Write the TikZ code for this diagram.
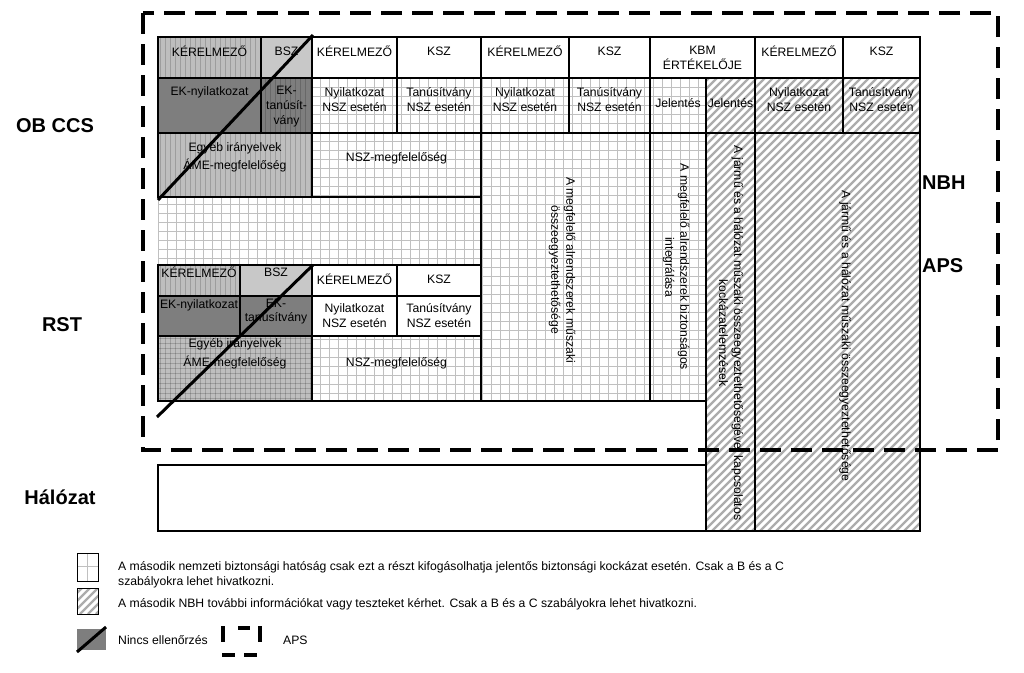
\documentclass[tikz,border=0pt]{standalone}
\usepackage{fontspec}
\setmainfont{Liberation Sans}
\definecolor{lgray}{HTML}{BEBEBE}
\definecolor{bszc}{HTML}{C8C8C8}
\definecolor{dgray}{HTML}{7E7E7E}
\definecolor{gridc}{HTML}{C0C0C0}
\definecolor{hatchc}{HTML}{ACACAC}
\begin{document}
\begin{tikzpicture}[x=1pt,y=-1pt,
  cell/.style={draw=black,line width=1.2pt},
  txt/.style={font=\fontsize{12.2}{15}\selectfont,align=center,inner sep=0pt},
  vtxt/.style={txt,rotate=-90},
  big/.style={font=\fontsize{20}{24}\selectfont\bfseries,inner sep=0pt},
  leg/.style={font=\fontsize{12.2}{15}\selectfont,inner sep=0pt,anchor=west,align=left},
  gridline/.style={draw=gridc,line width=0.8pt},
  hatchline/.style={draw=hatchc,line width=2.2pt},
  vline/.style={draw=black,opacity=0.17,line width=0.7pt},
  diag/.style={draw=black,line width=3pt},
  apsline/.style={draw=black,line width=3.5pt,dash pattern=on 21pt off 10pt}
]
\useasboundingbox (0,0) rectangle (1024,672);
\fill[white] (0,0) rectangle (1024,672);

% gray cells
\fill[lgray] (158,37) rectangle (261,78);
\fill[bszc] (261,37) rectangle (312,78);
\fill[dgray] (158,78) rectangle (312,133);
\fill[lgray] (158,133) rectangle (312,197);
\fill[lgray] (158,265) rectangle (240,296);
\fill[bszc] (240,265) rectangle (312,296);
\fill[dgray] (158,296) rectangle (312,336);
\fill[lgray] (158,336) rectangle (312,401);
\begin{scope}
  \clip (158,37) rectangle (261,78) (261,78) rectangle (312,133) (158,133) rectangle (312,197)
        (158,265) rectangle (240,296) (158,336) rectangle (312,401);
  \foreach \x in {160,165,...,312} \draw[vline] (\x,37) -- (\x,401);
\end{scope}
\begin{scope}
  \clip (158,336) rectangle (312,401);
  \foreach \y in {338,343,...,401} \draw[vline] (158,\y) -- (312,\y);
\end{scope}

% grid pattern
\begin{scope}
  \clip (312,78) rectangle (481,197) (158,197) rectangle (481,265)
        (481,78) rectangle (706,401) (312,336) rectangle (481,401);
  \foreach \x in {158,167,...,706} \draw[gridline] (\x,78) -- (\x,401);
  \foreach \y in {78,87,...,401} \draw[gridline] (158,\y) -- (706,\y);
\end{scope}

% hatch pattern
\begin{scope}
  \clip (706,78) rectangle (920,531);
  \foreach \x in {240,248,...,924} \draw[hatchline] (\x,531) -- ++(470,-470);
\end{scope}

% borders
\draw[cell] (158,37) rectangle (920,133);
\draw[cell] (158,78) -- (920,78);
\foreach \x in {261,312,397,481,569,650,755,843} \draw[cell] (\x,37) -- (\x,133);
\draw[cell] (706,78) -- (706,133);
\draw[cell] (158,133) rectangle (481,197);
\draw[cell] (312,133) -- (312,197);
\draw[cell] (481,133) -- (481,401);
\draw[cell] (650,133) -- (650,401);
\draw[cell] (158,401) -- (706,401);
\draw[cell] (158,265) rectangle (481,401);
\draw[cell] (158,296) -- (481,296);
\draw[cell] (158,336) -- (481,336);
\draw[cell] (240,265) -- (240,336);
\draw[cell] (312,265) -- (312,401);
\draw[cell] (397,265) -- (397,336);
\draw[cell] (706,133) rectangle (755,531);
\draw[cell] (755,133) rectangle (920,531);
\draw[cell] (158,465) rectangle (706,531);

% diagonals
\draw[diag] (158,200) -- (313,35);
\draw[diag] (157,417) -- (313,265);

% top block texts
\node[txt] (a1) at (209.5,51) {KÉRELMEZŐ};
\node[txt] (a2) at (286.5,51) {BSZ};
\node[txt] (a3) at (354.5,51) {KÉRELMEZŐ};
\node[txt] (a4) at (439,51) {KSZ};
\node[txt] (a5) at (525,51) {KÉRELMEZŐ};
\node[txt] (a6) at (609.5,51) {KSZ};
\node[txt] (a7) at (702.5,58) {KBM\\ÉRTÉKELŐJE};
\node[txt] (a8) at (799,51) {KÉRELMEZŐ};
\node[txt] (a9) at (881.5,51) {KSZ};

\node[txt] (b1) at (209.5,92) {EK-nyilatkozat};
\node[txt] (b2) at (286.5,107) {EK-\\tanúsít-\\vány};
\node[txt] (b3) at (354.5,100) {Nyilatkozat\\NSZ esetén};
\node[txt] (b4) at (439,100) {Tanúsítvány\\NSZ esetén};
\node[txt] (b5) at (525,100) {Nyilatkozat\\NSZ esetén};
\node[txt] (b6) at (609.5,100) {Tanúsítvány\\NSZ esetén};
\node[txt] (b7) at (678,103) {Jelentés};
\node[txt] (b8) at (730.5,103) {Jelentés};
\node[txt] (b9) at (799,100) {Nyilatkozat\\NSZ esetén};
\node[txt] (b10) at (881.5,100) {Tanúsítvány\\NSZ esetén};

\node[txt,font=\fontsize{12.2}{18}\selectfont] (c1) at (235,157) {Egyéb irányelvek\\ÁME-megfelelőség};
\node[txt] (c2) at (396.5,158) {NSZ-megfelelőség};

% RST block texts
\node[txt] (r1) at (199,272) {KÉRELMEZŐ};
\node[txt] (r2) at (276,272) {BSZ};
\node[txt] (r3) at (354.5,279) {KÉRELMEZŐ};
\node[txt] (r4) at (439,279) {KSZ};
\node[txt] (r5) at (199,305) {EK-nyilatkozat};
\node[txt,font=\fontsize{12.2}{14}\selectfont] (r6) at (276,312) {EK-\\tanúsítvány};
\node[txt] (r7) at (354.5,316) {Nyilatkozat\\NSZ esetén};
\node[txt] (r8) at (439,316) {Tanúsítvány\\NSZ esetén};
\node[txt,font=\fontsize{12.2}{19}\selectfont] (r9) at (235,354) {Egyéb irányelvek\\ÁME-megfelelőség};
\node[txt] (r10) at (396.5,363) {NSZ-megfelelőség};

% vertical texts
\node[vtxt] (v1) at (562,270) {A megfelelő alrendszerek műszaki\\összeegyeztethetősége};
\node[vtxt] (v2) at (676,267) {A megfelelő alrendszerek biztonságos\\integrálása};
\node[vtxt] (v3) at (731,333) {A jármű és a hálózat műszaki összeegyeztethetőségével kapcsolatos\\kockázatelemzések};
\node[vtxt] (v4) at (845,336) {A jármű és a hálózat műszaki összeegyeztethetősége};

% big labels
\node[big] (obccs) at (55,126) {OB CCS};
\node[big] (rst) at (62,325) {RST};
\node[big] (hal) at (60,497) {Hálózat};
\node[big,anchor=west] (nbh) at (922,183) {NBH};
\node[big,anchor=west] (aps) at (922,266) {APS};

% APS dashed outline
\draw[apsline] (143,13) rectangle (998,450);

% legend
\draw[gridc,line width=0.8pt] (87.5,553) -- (87.5,581) (77,566) -- (98,566);
\draw[black,line width=1pt] (77,553) rectangle (98,581);
\begin{scope}
  \clip (77,588) rectangle (98,614);
  \foreach \x in {40,48,...,100} \draw[hatchline] (\x,614) -- ++(40,-40);
\end{scope}
\draw[black,line width=1pt] (77,588) rectangle (98,614);
\fill[dgray] (77,629) rectangle (106,650);
\draw[diag] (77,652) -- (106,627);
\draw[line width=3.5pt] (223,626) -- (223,642) (238,628) -- (250,628) (260,626) -- (260,642)
  (222,655) -- (235,655) (244,655) -- (257,655);

\node[leg] (l1) at (118,574.5) {A második nemzeti biztonsági hatóság csak ezt a részt kifogásolhatja jelentős biztonsági kockázat esetén. Csak a B és a C\\szabályokra lehet hivatkozni.};
\node[leg] (l2) at (118,604) {A második NBH további információkat vagy teszteket kérhet. Csak a B és a C szabályokra lehet hivatkozni.};
\node[leg] (l3) at (118,640) {Nincs ellenőrzés};
\node[leg] (l4) at (283,640) {APS};
\end{tikzpicture}
\end{document}
